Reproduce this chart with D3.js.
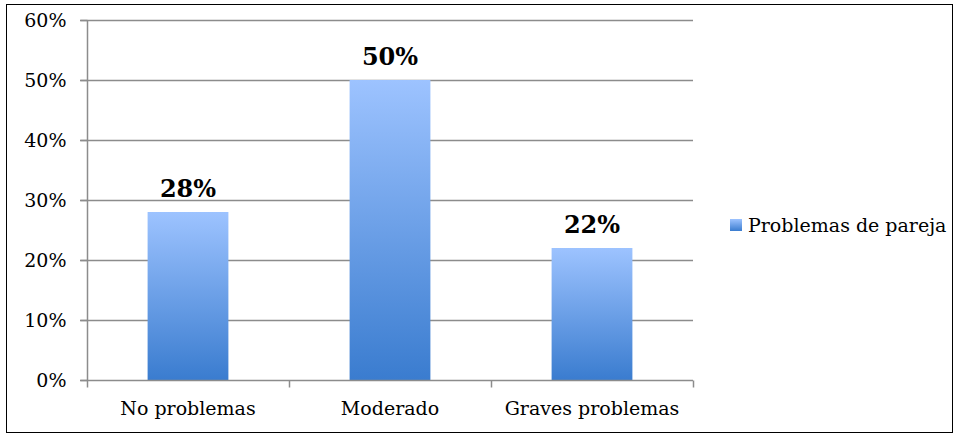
<!DOCTYPE html>
<html>
<head>
<meta charset="utf-8">
<script src="https://cdn.jsdelivr.net/npm/d3@7"></script>
<style>
  html, body { margin: 0; padding: 0; background: #fff; }
  svg { display: block; }
</style>
</head>
<body>
<div id="chart"></div>
<script>
// Bar chart: Problemas de pareja
var categories = ['No problemas', 'Moderado', 'Graves problemas'];
var values = [0.28, 0.50, 0.22];
var seriesName = 'Problemas de pareja';
var yTicks = [0, 0.1, 0.2, 0.3, 0.4, 0.5, 0.6];

var W = 956, H = 433;
var margin = { top: 20, right: 263, bottom: 53, left: 87 };
var innerW = W - margin.left - margin.right;
var innerH = H - margin.top - margin.bottom;
var font = "'DejaVu Serif', 'Liberation Serif', serif";

var svg = d3.select('#chart').append('svg')
    .attr('width', W).attr('height', H);

var defs = svg.append('defs');
var grad = defs.append('linearGradient')
    .attr('id', 'barGrad')
    .attr('x1', 0).attr('y1', 0).attr('x2', 0).attr('y2', 1);
grad.append('stop').attr('offset', '0%').attr('stop-color', '#9DC3FF');
grad.append('stop').attr('offset', '100%').attr('stop-color', '#3A7CCF');

// outer border
svg.append('rect')
    .attr('x', 6.5).attr('y', 4.5)
    .attr('width', W - 10).attr('height', H - 5)
    .attr('fill', 'none').attr('stroke', '#000').attr('stroke-width', 1);

var g = svg.append('g')
    .attr('transform', 'translate(' + margin.left + ',' + margin.top + ')');

var x = d3.scaleBand().domain(categories).range([0, innerW])
    .paddingInner(0.6).paddingOuter(0.3);
var y = d3.scaleLinear().domain([0, 0.6]).range([innerH, 0]);

// gridlines
g.append('g').selectAll('line').data(yTicks.slice(1)).join('line')
    .attr('x1', -7).attr('x2', innerW)
    .attr('y1', function (d) { return Math.round(y(d)) + 0.5; })
    .attr('y2', function (d) { return Math.round(y(d)) + 0.5; })
    .attr('stroke', '#8c8c8c').attr('stroke-width', 1.5);

// bars
g.selectAll('rect.bar').data(values).join('rect')
    .attr('class', 'bar')
    .attr('x', function (d, i) { return x(categories[i]); })
    .attr('width', x.bandwidth())
    .attr('y', function (d) { return y(d); })
    .attr('height', function (d) { return innerH - y(d); })
    .attr('fill', 'url(#barGrad)');

// value labels
g.selectAll('text.val').data(values).join('text')
    .attr('class', 'val')
    .attr('x', function (d, i) { return x(categories[i]) + x.bandwidth() / 2; })
    .attr('y', function (d) { return y(d) - 15; })
    .attr('text-anchor', 'middle')
    .attr('font-family', font).attr('font-weight', 'bold')
    .attr('font-size', 24).attr('fill', '#000')
    .text(function (d) { return Math.round(d * 100) + '%'; });

// y axis
var yAxis = d3.axisLeft(y).tickValues(yTicks).tickSize(7).tickPadding(14)
    .tickFormat(d3.format('.0%'));
var yg = g.append('g').attr('transform', 'translate(0.5,0)').call(yAxis);
yg.select('.domain').remove();
yg.append('line').attr('x1', 0).attr('x2', 0).attr('y1', 0).attr('y2', innerH)
    .attr('stroke', '#8c8c8c').attr('stroke-width', 1.5);

// x axis
var xAxis = d3.axisBottom(x).tickSize(0).tickPadding(21);
var xg = g.append('g').attr('transform', 'translate(0,' + (innerH + 0.5) + ')').call(xAxis);
xg.select('.domain').remove();
xg.append('line').attr('x1', -7).attr('x2', innerW).attr('y1', 0).attr('y2', 0)
    .attr('stroke', '#8c8c8c').attr('stroke-width', 1.5);
xg.selectAll('line.sep').data(d3.range(categories.length + 1)).join('line')
    .attr('class', 'sep')
    .attr('x1', function (i) { return Math.round(i * x.step()) + 0.5; })
    .attr('x2', function (i) { return Math.round(i * x.step()) + 0.5; })
    .attr('y1', 0).attr('y2', 7)
    .attr('stroke', '#8c8c8c').attr('stroke-width', 1.5);

[yg, xg].forEach(function (ax) {
    ax.selectAll('.tick line').attr('stroke', '#8c8c8c').attr('stroke-width', 1.5);
    ax.selectAll('text').attr('fill', '#000')
        .attr('font-family', font).attr('font-size', 19);
});
xg.selectAll('.tick text').attr('dy', '0.71em');

// legend
var lg = svg.append('g').attr('transform', 'translate(730,219)');
lg.append('rect').attr('width', 12).attr('height', 12).attr('fill', 'url(#barGrad)');
lg.append('text').attr('x', 18).attr('y', 12.5)
    .attr('font-family', font).attr('font-size', 19).attr('fill', '#000')
    .text(seriesName);
</script>
</body>
</html>
